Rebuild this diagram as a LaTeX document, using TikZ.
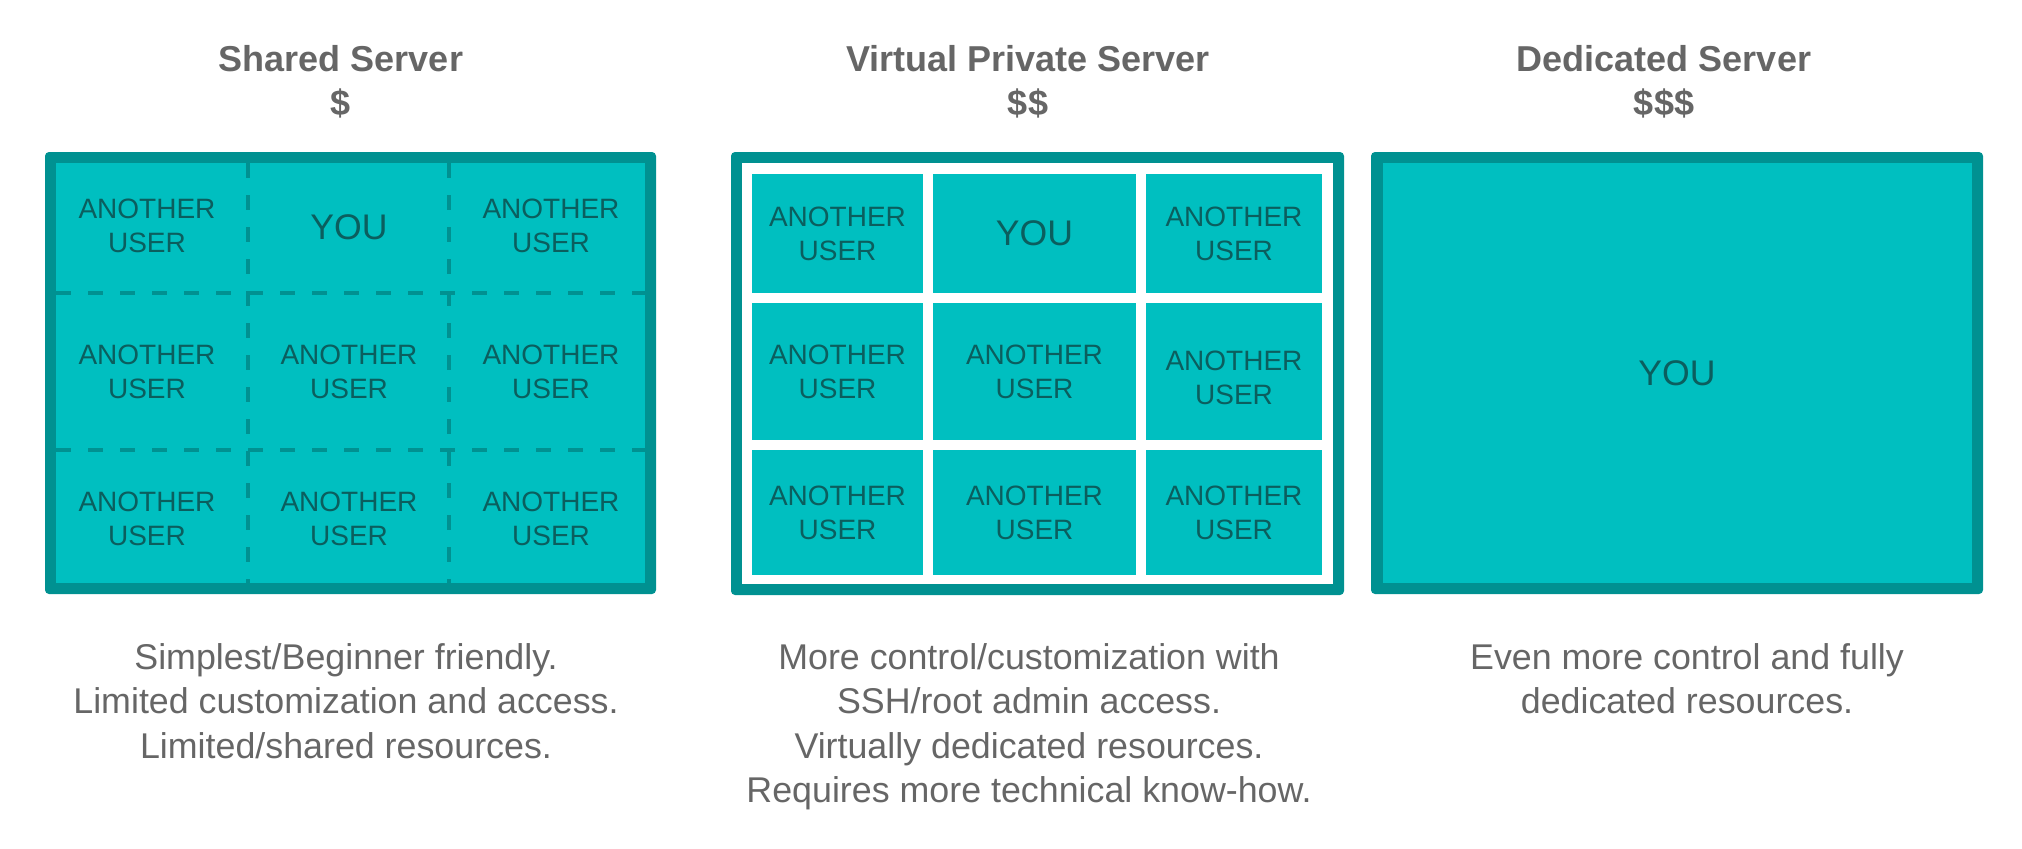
\documentclass[tikz,border=0pt]{standalone}
\usepackage{fontspec}
\setmainfont{Liberation Sans}

\definecolor{tealfill}{HTML}{00BFC0}
\definecolor{tealedge}{HTML}{009191}
\definecolor{tealtext}{HTML}{0B5E5E}
\definecolor{greytext}{HTML}{666666}

\tikzset{
    panel/.style={fill=tealedge, rounded corners=2pt},
    panelin/.style={fill=tealfill},
    divider/.style={tealedge, line width=1.75pt, dash pattern=on 7.5pt off 8.5pt},
    usertext/.style={text=tealtext, align=center, inner sep=0pt, font=\fontsize{14}{17}\selectfont},
    youtext/.style={text=tealtext, inner sep=0pt, font=\fontsize{17.8}{20}\selectfont},
    vpscell/.style={fill=tealfill, inner sep=0pt},
    heading/.style={text=greytext, inner sep=0pt, font=\bfseries\fontsize{18}{22}\selectfont},
    blurb/.style={text=greytext, align=center, anchor=north, inner sep=0pt, font=\fontsize{17.9}{22.2}\selectfont}
}

\begin{document}
\begin{tikzpicture}[x=0.5pt, y=-0.5pt]
        \useasboundingbox (0,0) rectangle (2022,848);

        % Headings
        \node[heading] (t1) at (341,59) {Shared Server};
        \node[heading] (p1) at (341,103) {\$};
        \node[heading] (t2) at (1028,59) {Virtual Private Server};
        \node[heading] (p2) at (1028,103) {\$\$};
        \node[heading] (t3) at (1664,59) {Dedicated Server};
        \node[heading] (p3) at (1664,103) {\$\$\$};

        % Shared server: one box split by dashed lines
        \path[panel] (45,152) rectangle (656,594);
        \path[panelin] (56,163) rectangle (645,583);
        \draw[divider] (248,163) -- (248,583);
        \draw[divider] (449,163) -- (449,583);
        \draw[divider] (56,293) -- (645,293);
        \draw[divider] (56,450) -- (645,450);
        \node[usertext] (s11) at (147,226) {ANOTHER\\USER};
        \node[youtext] (s12) at (349,227) {YOU};
        \node[usertext] (s13) at (551,226) {ANOTHER\\USER};
        \foreach \cx/\cn in {147/1, 349/2, 551/3} {
            \node[usertext] (s2\cn) at (\cx,372) {ANOTHER\\USER};
            \node[usertext] (s3\cn) at (\cx,519) {ANOTHER\\USER};
        }

        % Virtual private server: separated boxes on white
        \path[panel] (731,152) rectangle (1344,595);
        \path[fill=white] (742,163) rectangle (1333,584);
        \node[vpscell, minimum width=85.5pt, minimum height=59.5pt] (v11) at (837.5,233.5) {};
        \node[vpscell, minimum width=101.5pt, minimum height=59.5pt] (v12) at (1034.5,233.5) {};
        \node[vpscell, minimum width=88pt, minimum height=59.5pt] (v13) at (1234,233.5) {};
        \node[vpscell, minimum width=85.5pt, minimum height=68.5pt] (v21) at (837.5,371.5) {};
        \node[vpscell, minimum width=101.5pt, minimum height=68.5pt] (v22) at (1034.5,371.5) {};
        \node[vpscell, minimum width=88pt, minimum height=68.5pt] (v23) at (1234,371.5) {};
        \node[vpscell, minimum width=85.5pt, minimum height=62.5pt] (v31) at (837.5,512.5) {};
        \node[vpscell, minimum width=101.5pt, minimum height=62.5pt] (v32) at (1034.5,512.5) {};
        \node[vpscell, minimum width=88pt, minimum height=62.5pt] (v33) at (1234,512.5) {};
        \node[usertext] at (v11) {ANOTHER\\USER};
        \node[youtext] at (v12) {YOU};
        \node[usertext] at (v13) {ANOTHER\\USER};
        \node[usertext] at (v21) {ANOTHER\\USER};
        \node[usertext] at (v22) {ANOTHER\\USER};
        \node[usertext] at ([yshift=-3pt]v23.center) {ANOTHER\\USER};
        \node[usertext] at (v31) {ANOTHER\\USER};
        \node[usertext] at (v32) {ANOTHER\\USER};
        \node[usertext] at (v33) {ANOTHER\\USER};

        % Dedicated server: the whole box
        \path[panel] (1371,152) rectangle (1983,594);
        \path[panelin] (1383,163) rectangle (1972,583);
        \node[youtext] (d1) at (1677,373) {YOU};

        % Notes under each box
        \node[blurb] (n1) at (346,643) {Simplest/Beginner friendly.\\Limited customization and access.\\Limited/shared resources.};
        \node[blurb] (n2) at (1029,643) {More control/customization with\\SSH/root admin access.\\Virtually dedicated resources.\\Requires more technical know-how.};
        \node[blurb] (n3) at (1687,643) {Even more control and fully\\dedicated resources.};
    \end{tikzpicture}
\end{document}
